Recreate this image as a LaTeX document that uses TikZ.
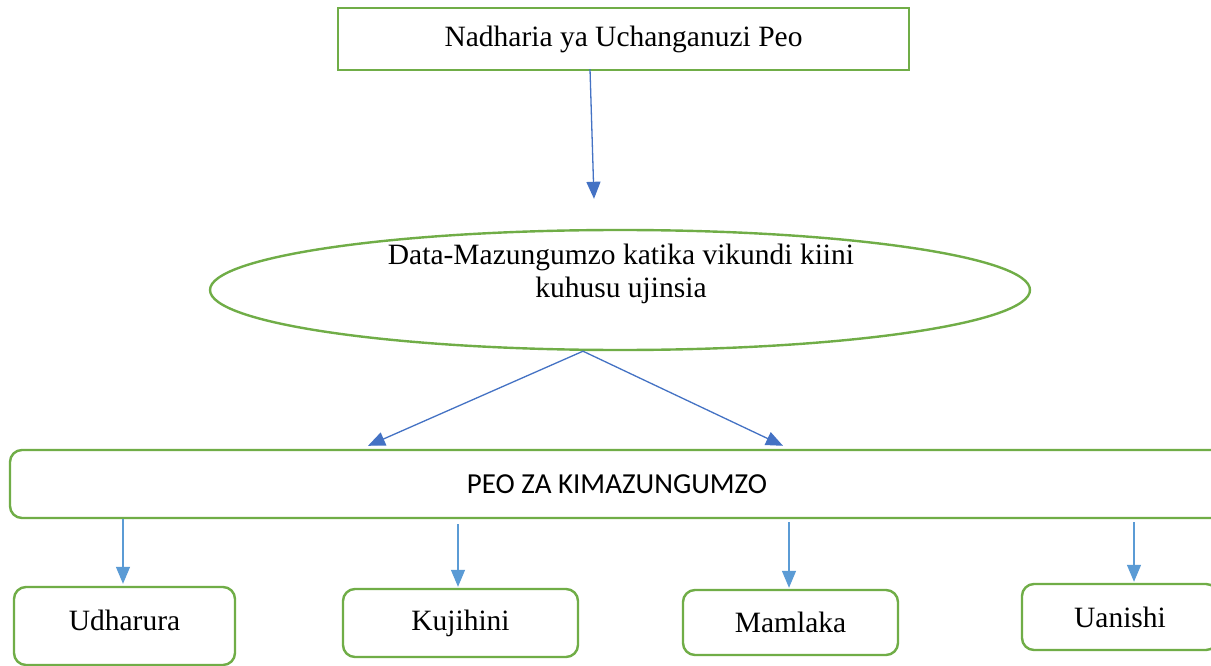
\documentclass[tikz,border=0pt]{standalone}
\usepackage{fontspec}
\setmainfont{Liberation Serif}
\newfontfamily\calibrifont{Carlito}
\usetikzlibrary{shapes.geometric,arrows.meta}
\definecolor{boxgreen}{HTML}{70AD47}
\definecolor{darkblue}{HTML}{4472C4}
\definecolor{lightblue}{HTML}{5B9BD5}
\tikzset{
  sqbox/.style={draw=boxgreen,line width=2.4pt,rectangle,inner sep=0pt,font=\fontsize{29.5}{33}\selectfont},
  rbox/.style={sqbox,rounded corners=12pt},
  ellbox/.style={draw=boxgreen,line width=2.4pt,ellipse,inner sep=0pt},
  darr/.style={draw=darkblue,line width=1.3pt,-{Triangle[length=17pt,width=14pt]}},
  larr/.style={draw=lightblue,line width=1.3pt,-{Triangle[length=17pt,width=14pt]}},
}
\begin{document}
\begin{tikzpicture}[x=1pt,y=-1pt]
\useasboundingbox (0,0) rectangle (1211,666);
\clip (0,0) rectangle (1211,666);
\fill[white] (0,0) rectangle (1211,666);
\node[sqbox,minimum width=571pt,minimum height=62pt] (top) at (623.5,39) {Nadharia ya Uchanganuzi Peo};
\node[ellbox,minimum width=820pt,minimum height=120pt] (ell) at (620,290) {};
\node[align=center,font=\fontsize{29.5}{33}\selectfont,inner sep=0pt] (elltext) at (621,274) {Data-Mazungumzo katika vikundi kiini\\kuhusu ujinsia};
\node[rbox,minimum width=1214pt,minimum height=68pt,font=\calibrifont\fontsize{29}{33}\selectfont] (peo) at (617,484) {PEO ZA KIMAZUNGUMZO};
\node[rbox,minimum width=221pt,minimum height=78pt,text depth=12pt] (b1) at (124.5,626) {Udharura};
\node[rbox,minimum width=235pt,minimum height=68pt] (b2) at (460.5,623) {Kujihini};
\node[rbox,minimum width=215pt,minimum height=65pt] (b3) at (790.5,622.5) {Mamlaka};
\node[rbox,minimum width=196pt,minimum height=66pt] (b4) at (1120,617) {Uanishi};
\draw[darr] ([xshift=-33.5pt,yshift=2pt]top.south) -- ([xshift=-26pt,yshift=30pt]ell.north);
\draw[darr] ([xshift=-37pt]ell.south) -- ([xshift=-249pt,yshift=3pt]peo.north);
\draw[darr] ([xshift=-37pt]ell.south) -- ([xshift=166pt,yshift=3pt]peo.north);
\draw[larr] ([xshift=-1.5pt]peo.south -| b1.north) -- ([xshift=-1.5pt,yshift=2pt]b1.north);
\draw[larr] ([xshift=-2.5pt,yshift=-5pt]peo.south -| b2.north) -- ([xshift=-2.5pt,yshift=1pt]b2.north);
\draw[larr] ([xshift=-1.5pt,yshift=-3pt]peo.south -| b3.north) -- ([xshift=-1.5pt,yshift=1pt]b3.north);
\draw[larr] ([xshift=14pt,yshift=-3pt]peo.south -| b4.north) -- ([xshift=14pt,yshift=1pt]b4.north);
\end{tikzpicture}
\end{document}
